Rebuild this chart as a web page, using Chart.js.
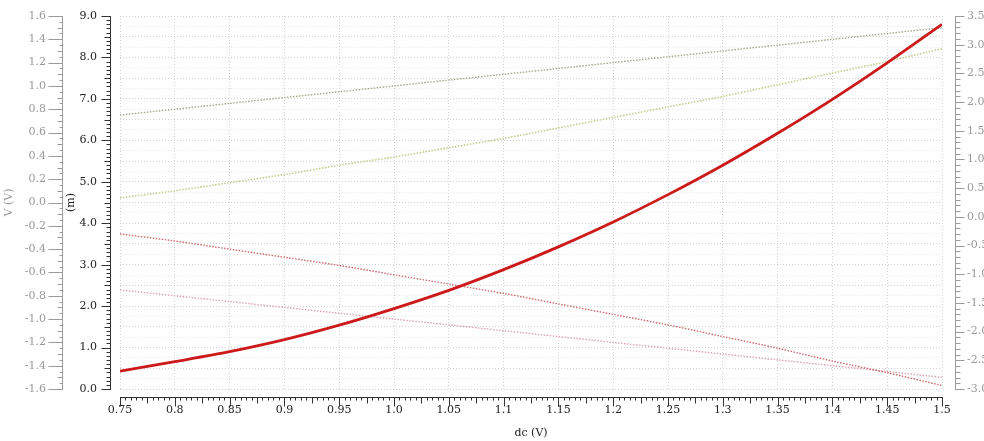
<!DOCTYPE html>
<html>
<head>
<meta charset="utf-8">
<script src="https://cdn.jsdelivr.net/npm/chart.js@4/dist/chart.umd.min.js"></script>
<style>
  html, body { margin: 0; padding: 0; background: #ffffff; }
  #wrap { width: 984px; height: 441px; position: relative; }
</style>
</head>
<body>
<div id="wrap"><canvas id="c" width="984" height="441"></canvas></div>
<script>
// DC sweep points (V)
const dcSweep = [0.75, 0.80, 0.85, 0.90, 0.95, 1.00, 1.05, 1.10, 1.15, 1.20, 1.25, 1.30, 1.35, 1.40, 1.45, 1.50];
// Current trace on the (m) axis
const currentM = [0.43, 0.66, 0.90, 1.19, 1.54, 1.94, 2.38, 2.88, 3.43, 4.03, 4.69, 5.40, 6.17, 6.99, 7.87, 8.80];
// Voltage traces on the V (V) axis
const vIn    = [0.75, 0.80, 0.85, 0.90, 0.95, 1.00, 1.05, 1.10, 1.15, 1.20, 1.25, 1.30, 1.35, 1.40, 1.45, 1.50];
const vOut   = [0.04, 0.10, 0.17, 0.24, 0.32, 0.39, 0.47, 0.55, 0.64, 0.73, 0.82, 0.91, 1.01, 1.11, 1.21, 1.32];
const vNeg1  = [-0.27, -0.33, -0.40, -0.47, -0.54, -0.62, -0.70, -0.78, -0.87, -0.96, -1.05, -1.15, -1.25, -1.36, -1.46, -1.57];
const vNeg2  = [-0.75, -0.80, -0.85, -0.90, -0.95, -1.00, -1.05, -1.10, -1.15, -1.20, -1.25, -1.30, -1.35, -1.40, -1.45, -1.50];

const pts = ys => dcSweep.map((x, i) => ({ x: x, y: ys[i] }));
const FONT = 'DejaVu Serif';

function fmt1(v) { return Math.abs(v) < 1e-9 ? '0.0' : v.toFixed(1); }
function fmtX(v) { let s = v.toFixed(2); if (s.endsWith('0')) s = s.slice(0, -1); return s; }

// Fixed axis width; label overhang is allowed to spill into the outer margin
function fixWidth(w) {
  return s => { s.width = w; s.paddingTop = 0; s.paddingBottom = 0; };
}

// Axis lines with major/minor tick marks, placed off the plot area
const axisDecor = {
  id: 'axisDecor',
  afterDraw(chart) {
    const { ctx, chartArea: ca, scales } = chart;
    ctx.save();
    ctx.lineWidth = 1;

    function vertAxis(scale, x, dir, color, min, minor, n, medEvery, majEvery, lens) {
      ctx.strokeStyle = color;
      ctx.beginPath();
      ctx.moveTo(x + 0.5, scale.getPixelForValue(scale.max));
      ctx.lineTo(x + 0.5, scale.getPixelForValue(scale.min) + 1);
      for (let i = 0; i <= n; i++) {
        const v = min + i * minor;
        const y = Math.round(scale.getPixelForValue(v)) + 0.5;
        const len = (i % majEvery === 0) ? lens[2] : (i % medEvery === 0 ? lens[1] : lens[0]);
        ctx.moveTo(x + 0.5, y);
        ctx.lineTo(x + 0.5 + dir * len, y);
      }
      ctx.stroke();
    }

    const sm = scales.m, sv = scales.v, sr = scales.r, sx = scales.x;
    vertAxis(sm, Math.round(ca.left) - 10, -1, '#333333', 0, 0.1, 90, 5, 10, [4, 6, 9]);
    vertAxis(sv, Math.round(sv.right) - 2, -1, '#9a9a9a', -1.6, 0.05, 64, 2, 4, [3, 5, 14]);
    vertAxis(sr, Math.round(ca.right) + 13, 1, '#9a9a9a', -3.0, 0.1, 65, 5, 5, [5, 5, 9]);

    // bottom axis
    const y0 = Math.round(ca.bottom) + 8.5;
    ctx.strokeStyle = '#333333';
    ctx.beginPath();
    ctx.moveTo(sx.getPixelForValue(0.75), y0);
    ctx.lineTo(sx.getPixelForValue(1.5) + 1, y0);
    for (let i = 0; i <= 150; i++) {
      const v = 0.75 + i * 0.005;
      const x = Math.round(sx.getPixelForValue(v)) + 0.5;
      const len = (i % 10 === 0) ? 9 : (i % 5 === 0 ? 6 : 3);
      ctx.moveTo(x, y0);
      ctx.lineTo(x, y0 + len);
    }
    ctx.stroke();
    ctx.restore();
  }
};

new Chart(document.getElementById('c'), {
  type: 'line',
  data: {
    datasets: [
      { data: pts(currentM), yAxisID: 'm', borderColor: '#cc1a1a', borderWidth: 2.8, tension: 0.3 },
      { data: pts(vIn),   yAxisID: 'v', borderColor: '#a6a691', borderWidth: 1.4, borderDash: [1.5, 1.5], tension: 0.3 },
      { data: pts(vOut),  yAxisID: 'v', borderColor: '#c6cc8c', borderWidth: 1.6, borderDash: [1.5, 1.5], tension: 0.3 },
      { data: pts(vNeg1), yAxisID: 'v', borderColor: '#cc6a6a', borderWidth: 1.4, borderDash: [1.5, 1.5], tension: 0.3 },
      { data: pts(vNeg2), yAxisID: 'v', borderColor: '#dba5ae', borderWidth: 1.4, borderDash: [1.5, 1.5], tension: 0.3 }
    ]
  },
  options: {
    responsive: false,
    animation: false,
    events: [],
    layout: { padding: { top: 16, left: 0, right: 0, bottom: 0 } },
    elements: { point: { radius: 0 } },
    plugins: { legend: { display: false }, tooltip: { enabled: false } },
    scales: {
      x: {
        type: 'linear', position: 'bottom', min: 0.75, max: 1.5,
        ticks: { stepSize: 0.05, autoSkip: false, maxRotation: 0, padding: 15,
                 color: '#222222', font: { family: FONT, size: 11 }, callback: v => fmtX(v) },
        grid: { drawTicks: false, color: '#d4d4d4', lineWidth: 1 },
        border: { display: false, dash: [1, 2] },
        title: { display: true, text: 'dc (V)', color: '#222222', font: { family: FONT, size: 11 },
                 padding: { top: 0, bottom: 1 } },
        afterFit: s => { s.height = 52; }
      },
      v: {
        type: 'linear', position: 'left', weight: 1, min: -1.6, max: 1.6,
        ticks: { stepSize: 0.2, autoSkip: false, padding: 18, color: '#9a9a9a',
                 font: { family: FONT, size: 11 }, callback: v => fmt1(v) },
        grid: { display: false, drawOnChartArea: false, drawTicks: false },
        border: { display: false },
        title: { display: true, text: 'V (V)', color: '#9a9a9a', font: { family: FONT, size: 11 },
                 padding: { top: 3, bottom: 0 } },
        afterFit: fixWidth(64)
      },
      m: {
        type: 'linear', position: 'left', weight: 0, min: 0, max: 9,
        ticks: { stepSize: 0.25, autoSkip: false, padding: 23, color: '#222222',
                 font: { family: FONT, size: 11 },
                 callback: v => (Math.abs(v - Math.round(v)) < 1e-6 ? fmt1(v) : '') },
        grid: { drawTicks: false, lineWidth: 1,
                color: c => (Math.round(c.tick.value * 4) % 2 === 0 ? '#d0d0d0' : '#e6e6e6') },
        border: { display: false, dash: [1, 2] },
        title: { display: true, text: '(m)', color: '#222222', font: { family: FONT, size: 11 },
                 padding: { top: 1, bottom: 0 } },
        afterFit: fixWidth(56)
      },
      r: {
        type: 'linear', position: 'right', min: -3.0, max: 3.5,
        ticks: { stepSize: 0.5, autoSkip: false, padding: 25, color: '#9a9a9a',
                 font: { family: FONT, size: 11 }, callback: v => fmt1(v) },
        grid: { display: false, drawOnChartArea: false, drawTicks: false },
        border: { display: false },
        afterFit: fixWidth(42)
      }
    }
  },
  plugins: [axisDecor]
});
</script>
</body>
</html>
